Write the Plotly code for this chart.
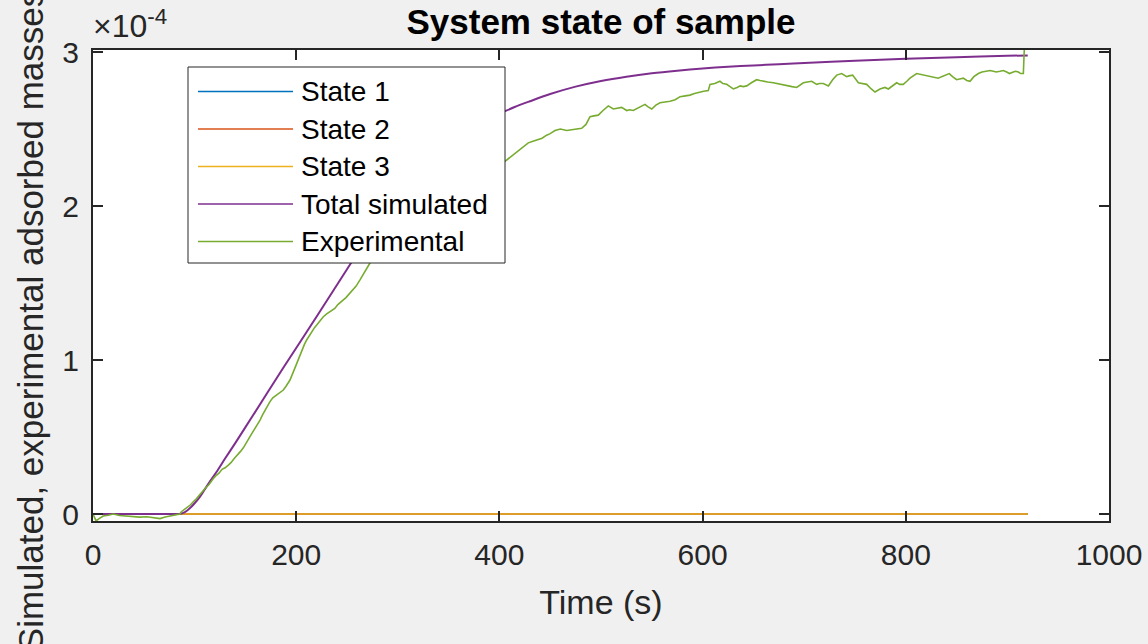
import plotly.graph_objects as go

# ---------------- data (y values in units of 1e-4) ----------------
series_names = ["State 1", "State 2", "State 3", "Total simulated", "Experimental"]
series_colors = ["#0072BD", "#D95319", "#EDB120", "#7E2F8E", "#77AC30"]

state_t = [0, 920]
state1 = [0, 0]
state2 = [0, 0]
state3 = [0, 0]

total_t = [0, 40, 80, 85, 90, 95, 100, 105, 110, 115, 121.7, 130, 140, 155, 187, 220,
           253, 270, 280, 290, 300, 310, 320, 330, 340, 350, 360, 370, 380, 390, 400,
           405, 415, 430, 450, 475, 500, 525, 550, 575, 600, 625, 650, 675, 700, 750,
           800, 850, 900, 920]
total_y = [0, 0, 0, 0, 0.010, 0.035, 0.070, 0.110, 0.160, 0.210, 0.274, 0.36, 0.46,
           0.615, 0.946, 1.281, 1.62, 1.79, 1.901, 1.995, 2.081, 2.158, 2.228, 2.292,
           2.350, 2.402, 2.449, 2.493, 2.531, 2.567, 2.599, 2.614, 2.643, 2.68, 2.727,
           2.775, 2.812, 2.840, 2.862, 2.879, 2.893, 2.904, 2.913, 2.921, 2.929, 2.943,
           2.956, 2.966, 2.975, 2.978]

exp_t = [0, 3, 6, 10, 15, 20, 26, 33, 40, 46, 53, 59, 66, 71, 76, 81, 85.6, 87, 90, 93,
         96, 98.7, 102, 105, 108, 111.9, 114, 117, 119, 121.7, 124, 127, 130, 133.2, 136,
         139, 142, 145, 148, 150, 152, 154.5, 157, 160, 162, 164.4, 167, 169, 172, 174.2,
         177, 180.7, 184, 187.3, 190, 193.9, 197, 200.5, 203, 205.4, 208, 210.3, 213,
         215, 218, 220.2, 223, 226.7, 230, 235, 238, 241, 244, 246.4, 249, 251, 254,
         256.2, 259, 262.8, 266, 269, 272.6, 282, 292, 302, 312, 322, 332, 342, 352,
         362, 372, 382, 392, 400, 405.5, 411, 417, 422, 428.4, 433, 438.3, 442, 446.5,
         450, 454.7, 460, 466.2, 471, 476, 481, 485.2, 489.2, 493, 497.3, 502, 507.2,
         512.1, 516, 520.3, 525.3, 528, 531.8, 537, 543.3, 546, 549.9, 554, 558.1, 563,
         568, 573, 577.8, 583, 587.6, 592, 597.4, 601, 605.6, 607.3, 612, 617.1, 620,
         623.7, 627, 630.2, 634, 637, 640, 643.4, 648, 653.2, 656.5, 659.7, 664, 669.6,
         676, 682.8, 688, 692.6, 696, 699.2, 703, 707.4, 712.3, 715, 718.8, 723.8, 728,
         732, 736.9, 741.8, 744, 747.7, 753.3, 757, 761.5, 766, 769.7, 774.6, 779.5,
         782.8, 787, 791, 794, 797.5, 801, 804.1, 810.7, 814, 817.2, 821, 825.5, 829,
         832, 835.3, 839, 842.8, 846, 850, 853, 856.6, 860, 863.2, 867, 871.4, 875,
         879.6, 883, 886.1, 889, 892.7, 896, 899.3, 902, 905.8, 908, 910.8, 913, 915.7,
         918, 921]
exp_y = [0.0, -0.045, -0.03, -0.013, -0.008, 0.0, -0.01, -0.013, -0.015, -0.02, -0.018,
         -0.025, -0.03, -0.02, -0.013, -0.01, 0.0, 0.015, 0.03, 0.045, 0.06, 0.08, 0.10,
         0.125, 0.15, 0.177, 0.19, 0.22, 0.235, 0.253, 0.265, 0.29, 0.30, 0.318, 0.335,
         0.36, 0.38, 0.405, 0.43, 0.45, 0.475, 0.502, 0.53, 0.56, 0.585, 0.61, 0.645,
         0.67, 0.705, 0.73, 0.755, 0.773, 0.79, 0.805, 0.83, 0.87, 0.92, 0.978, 1.02,
         1.065, 1.10, 1.13, 1.16, 1.18, 1.21, 1.227, 1.25, 1.281, 1.30, 1.325, 1.335,
         1.36, 1.38, 1.39, 1.405, 1.42, 1.44, 1.455, 1.48, 1.52, 1.555, 1.59, 1.63, 1.71,
         1.78, 1.85, 1.91, 1.96, 2.01, 2.05, 2.09, 2.12, 2.16, 2.19, 2.23, 2.26, 2.29,
         2.32, 2.35, 2.38, 2.41, 2.42, 2.43, 2.44, 2.46, 2.47, 2.49, 2.50, 2.49, 2.495,
         2.50, 2.505, 2.53, 2.58, 2.585, 2.59, 2.62, 2.65, 2.63, 2.635, 2.64, 2.62, 2.625,
         2.62, 2.64, 2.66, 2.645, 2.63, 2.655, 2.67, 2.675, 2.68, 2.69, 2.71, 2.715, 2.72,
         2.73, 2.74, 2.745, 2.75, 2.79, 2.795, 2.81, 2.795, 2.79, 2.775, 2.76, 2.77, 2.78,
         2.775, 2.78, 2.80, 2.82, 2.815, 2.81, 2.805, 2.80, 2.79, 2.78, 2.775, 2.77,
         2.785, 2.80, 2.805, 2.81, 2.79, 2.795, 2.795, 2.78, 2.82, 2.85, 2.86, 2.84, 2.845,
         2.85, 2.80, 2.795, 2.79, 2.76, 2.74, 2.76, 2.77, 2.76, 2.78, 2.80, 2.79, 2.79,
         2.81, 2.83, 2.86, 2.855, 2.85, 2.845, 2.84, 2.835, 2.83, 2.84, 2.85, 2.86, 2.84,
         2.82, 2.825, 2.83, 2.815, 2.81, 2.84, 2.86, 2.87, 2.875, 2.88, 2.875, 2.87,
         2.875, 2.88, 2.87, 2.86, 2.87, 2.875, 2.87, 2.86, 2.86, 3.25]

x_ticks = [0, 200, 400, 600, 800, 1000]
y_ticks = [0, 1, 2, 3]
y_tick_labels = ["0", "1", "2", "3"]

title_text = "System state of sample"
x_label = "Time (s)"
y_label = "Simulated, experimental adsorbed masses (kg)"
exponent_text = "×10<sup>-4</sup>"

# ---------------- figure ----------------
FONT = "Arial, 'Liberation Sans', Helvetica, sans-serif"
AX = "#262626"

xs = [state_t, state_t, state_t, total_t, exp_t]
ys = [state1, state2, state3, total_y, exp_y]
widths = [1.6, 1.6, 1.6, 2.0, 1.6]
shapes_ = ["linear", "linear", "linear", "spline", "linear"]

fig = go.Figure()
for name, color, x, y, w, sh in zip(series_names, series_colors, xs, ys, widths, shapes_):
    fig.add_trace(go.Scatter(x=x, y=y, mode="lines", name=name,
                             line=dict(color=color, width=w, shape=sh, smoothing=0.8),
                             showlegend=False))

fig.update_layout(
    width=1148, height=644,
    margin=dict(l=93, r=39, t=50, b=123, autoexpand=False),
    paper_bgcolor="#f0f0f0", plot_bgcolor="white",
    font=dict(family=FONT, size=30, color=AX),
    title=dict(text="<b>" + title_text + "</b>", x=0.5, xref="paper", xanchor="center",
               y=1 - 22 / 644, yref="container", yanchor="middle",
               font=dict(family=FONT, size=35, color="black")),
    showlegend=False,
)
fig.update_xaxes(range=[0, 1000], tickvals=x_ticks, ticks="inside", ticklen=10,
                 tickwidth=2, tickcolor=AX, showline=True, linecolor=AX, linewidth=2,
                 mirror="ticks", showgrid=False, zeroline=False, automargin=False,
                 ticklabelstandoff=6,
                 tickfont=dict(size=30, color=AX),
                 title=dict(text=x_label, font=dict(size=34, color=AX), standoff=20))
fig.update_yaxes(range=[-0.0454, 3.013], tickvals=y_ticks, ticktext=y_tick_labels,
                 ticks="inside", ticklen=10, tickwidth=2, tickcolor=AX, showline=True,
                 linecolor=AX, linewidth=2, mirror="ticks", showgrid=False,
                 zeroline=False, automargin=False, ticklabelstandoff=6,
                 tickfont=dict(size=30, color=AX),
                 title=dict(text=y_label, font=dict(size=35, color=AX), standoff=8))

# exponent label
fig.add_annotation(text=exponent_text, xref="paper", yref="paper", x=0.0, y=1.0,
                   xanchor="left", yanchor="bottom", showarrow=False, yshift=4,
                   xshift=-2, font=dict(size=32, color=AX))

# legend box (MATLAB style)
def px_x(p):
    return (p - 93) / (1148 - 93 - 39)

def px_y(p):
    return (644 - 123 - p) / (644 - 50 - 123)

fig.add_shape(type="rect", xref="paper", yref="paper", x0=px_x(188), x1=px_x(505),
              y0=px_y(263), y1=px_y(67), line=dict(color=AX, width=1),
              fillcolor="white", layer="above")
row_y = [91.5, 129, 166.5, 204, 241.5]
for name, color, ry in zip(series_names, series_colors, row_y):
    fig.add_shape(type="line", xref="paper", yref="paper", x0=px_x(198), x1=px_x(293),
                  y0=px_y(ry), y1=px_y(ry), line=dict(color=color, width=1.3),
                  layer="above")
    fig.add_annotation(text=name, xref="paper", yref="paper", x=px_x(299), y=px_y(ry),
                       xanchor="left", yanchor="middle", showarrow=False,
                       font=dict(size=28, color="black"))

fig.write_html("out.html")
